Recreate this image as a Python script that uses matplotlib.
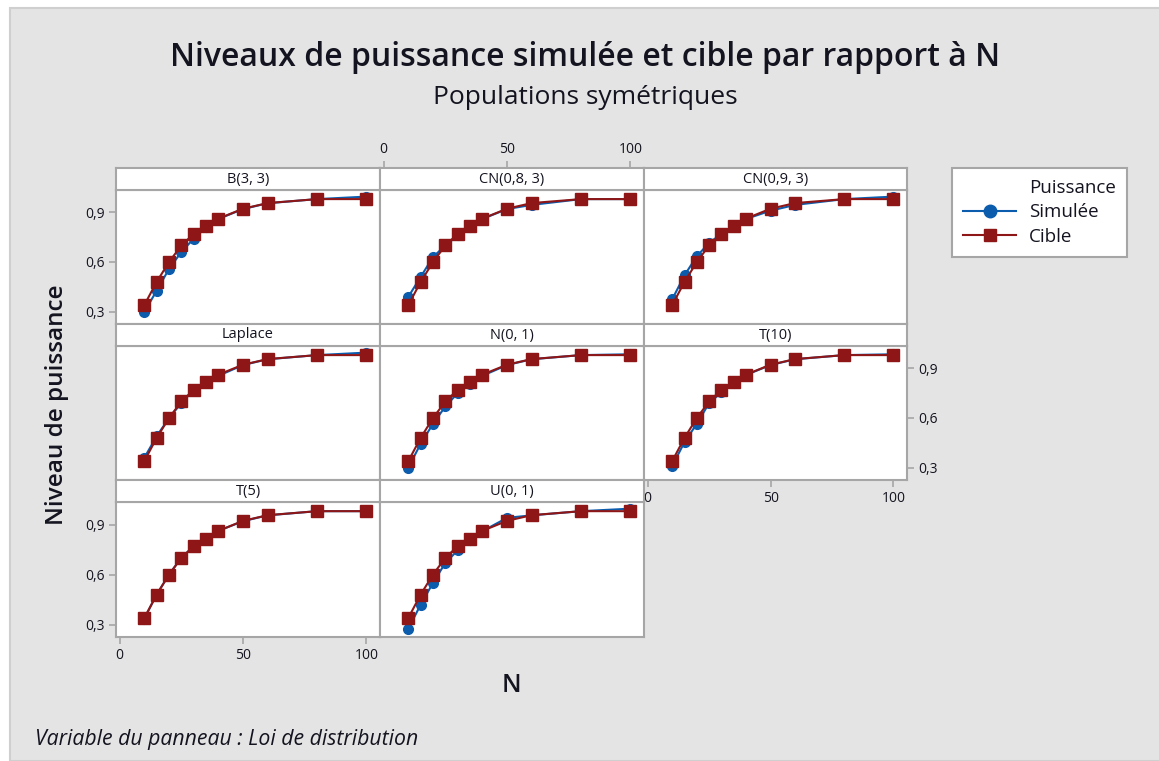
import numpy as np
import matplotlib
matplotlib.use("Agg")
import matplotlib.pyplot as plt
from matplotlib.lines import Line2D
from matplotlib.patches import Rectangle

plt.rcParams['font.family'] = ['Open Sans', 'DejaVu Sans']

# sample sizes and target power (same for every distribution)
n_values = [10, 15, 20, 25, 30, 35, 40, 50, 60, 80, 100]
cible = [0.34, 0.48, 0.60, 0.70, 0.77, 0.815, 0.862, 0.922, 0.956, 0.98, 0.98]

# simulated power per distribution
panels = ['B(3, 3)', 'CN(0,8, 3)', 'CN(0,9, 3)', 'Laplace', 'N(0, 1)', 'T(10)', 'T(5)', 'U(0, 1)']
sim_b33 = [0.298, 0.427, 0.558, 0.661, 0.741, 0.81, 0.86, 0.92, 0.955, 0.98, 0.995]
sim_cn08 = [0.39, 0.51, 0.63, 0.70, 0.76, 0.81, 0.86, 0.92, 0.945, 0.98, 0.98]
sim_cn09 = [0.375, 0.52, 0.635, 0.715, 0.77, 0.815, 0.86, 0.91, 0.945, 0.98, 0.995]
sim_laplace = [0.36, 0.49, 0.60, 0.69, 0.77, 0.815, 0.855, 0.92, 0.955, 0.98, 0.995]
sim_n01 = [0.30, 0.445, 0.565, 0.67, 0.75, 0.805, 0.855, 0.92, 0.955, 0.98, 0.985]
sim_t10 = [0.31, 0.455, 0.565, 0.69, 0.755, 0.81, 0.86, 0.92, 0.955, 0.98, 0.985]
sim_t5 = [0.335, 0.48, 0.60, 0.70, 0.77, 0.815, 0.862, 0.92, 0.955, 0.98, 0.98]
sim_u01 = [0.275, 0.42, 0.55, 0.67, 0.745, 0.81, 0.86, 0.94, 0.955, 0.98, 0.995]
simulee = [sim_b33, sim_cn08, sim_cn09, sim_laplace, sim_n01, sim_t10, sim_t5, sim_u01]

y_ticks = [0.3, 0.6, 0.9]
x_ticks = [0, 50, 100]

BLUE = '#0b5cad'
RED = '#8e1616'
TXT = '#141420'
EDGE = '#a6a6a6'

W, H = 1159, 761
fig = plt.figure(figsize=(W / 100, H / 100), dpi=100)
fig.patch.set_facecolor('white')
fig.patches.append(Rectangle((10 / W, 0), 1, 1 - 8 / H, transform=fig.transFigure,
                             facecolor='#e4e4e4', edgecolor='#cfcfcf', linewidth=1.5, zorder=-10))


def box(x0, y0, x1, y1):
    return [x0 / W, 1 - y1 / H, (x1 - x0) / W, (y1 - y0) / H]


col_x = [116, 380, 644, 907]
strip_top = [168, 324, 480]
plot_top = [190, 346, 502]
plot_bot = [324, 480, 637]
xlim = (-1.5, 105.5)
ylim = (0.225, 1.035)


def style(ax):
    for s in ax.spines.values():
        s.set_color(EDGE)
        s.set_linewidth(1.5)
    ax.tick_params(length=5, width=1.2, color=EDGE, labelsize=10, labelcolor=TXT, pad=3)
    ax.set_xticks([])
    ax.set_yticks([])


fmt = lambda v: ('%g' % v).replace('.', ',')

for i, (name, sim) in enumerate(zip(panels, simulee)):
    r, c = divmod(i, 3)
    ax = fig.add_axes(box(col_x[c], plot_top[r], col_x[c + 1], plot_bot[r]))
    st = fig.add_axes(box(col_x[c], strip_top[r], col_x[c + 1], plot_top[r]))
    for a in (ax, st):
        a.set_facecolor('white')
        style(a)
    ax.plot(n_values, sim, color=BLUE, lw=1.5, marker='o', ms=7, mec=BLUE, zorder=3)
    ax.plot(n_values, cible, color=RED, lw=1.5, marker='s', ms=8, mec=RED, zorder=4)
    ax.set_xlim(xlim)
    ax.set_ylim(ylim)
    st.set_xlim(xlim)
    st.text(0.5, 0.5, name, transform=st.transAxes, ha='center', va='center',
            fontsize=10.5, color=TXT)

    # Minitab-style alternating axes
    if c == 0 and r in (0, 2):
        ax.set_yticks(y_ticks)
        ax.set_yticklabels([fmt(v) for v in y_ticks])
    if c == 2 and r == 1:
        ax.yaxis.tick_right()
        ax.set_yticks(y_ticks)
        ax.set_yticklabels([fmt(v) for v in y_ticks])
    if (r == 2 and c == 0) or (r == 1 and c == 2):
        ax.set_xticks(x_ticks)
        ax.set_xticklabels([str(v) for v in x_ticks])
    if r == 0 and c == 1:
        st.xaxis.tick_top()
        st.set_xticks(x_ticks)
        st.set_xticklabels([str(v) for v in x_ticks])

fig.text(585 / W, 1 - 57 / H, 'Niveaux de puissance simulée et cible par rapport à N',
         ha='center', va='center', fontsize=23, fontweight='semibold', color=TXT)
fig.text(585 / W, 1 - 97 / H, 'Populations symétriques', ha='center', va='center',
         fontsize=19, color=TXT)
fig.text(57 / W, 1 - 405 / H, 'Niveau de puissance', rotation=90, ha='center', va='center',
         fontsize=17.5, fontweight='semibold', color=TXT)
fig.text(511 / W, 1 - 686 / H, 'N', ha='center', va='center', fontsize=18,
         fontweight='semibold', color=TXT)
fig.text(35 / W, 1 - 740 / H, 'Variable du panneau : Loi de distribution', ha='left',
         va='center', fontsize=15.3, style='italic', color=TXT)

handles = [Line2D([], [], linestyle='none'),
           Line2D([], [], color=BLUE, lw=1.5, marker='o', ms=9),
           Line2D([], [], color=RED, lw=1.5, marker='s', ms=9)]
leg = fig.legend(handles, ['Puissance', 'Simulée', 'Cible'], loc='upper left',
                 bbox_to_anchor=(952 / W, 1 - 168 / H), frameon=True, fancybox=False,
                 framealpha=1, facecolor='white', fontsize=13.5, handlelength=2.8,
                 borderpad=0.6, labelspacing=0.33, handletextpad=0.7, borderaxespad=0)
leg.get_frame().set_edgecolor(EDGE)
leg.get_frame().set_linewidth(1.5)
for t in leg.get_texts():
    t.set_color(TXT)

fig.savefig('out.png', dpi=100)
